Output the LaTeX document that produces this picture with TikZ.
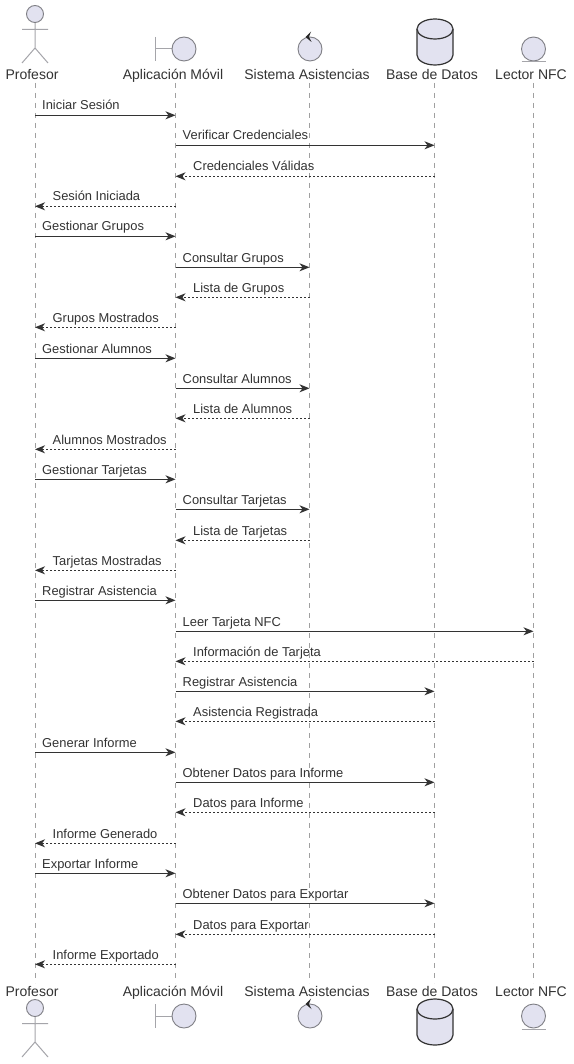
\documentclass[tikz,border=0pt]{standalone}
\usepackage{fontspec}
\setmainfont{Liberation Sans}
\usetikzlibrary{arrows.meta}
\definecolor{lav}{HTML}{E2E2F0}
\definecolor{ink}{HTML}{333333}
\definecolor{rim}{HTML}{7F7F85}
\definecolor{lifeg}{HTML}{A0A0A0}
\tikzset{
  x=1pt,y=-1pt,
  headlabel/.style={inner sep=0pt,anchor=base,text=ink,font=\fontsize{14}{16}\selectfont},
  msglabel/.style={inner sep=0pt,anchor=base west,text=ink,font=\fontsize{12.9}{14}\selectfont},
  lifeline/.style={draw=lifeg,line width=.8pt,dash pattern=on 5pt off 5pt},
  call/.style={draw=ink,line width=1.1pt,-{Stealth[length=10pt,width=8pt,inset=3pt]}},
  back/.style={draw=ink,line width=1.1pt,dash pattern=on 2pt off 2pt,-{Stealth[length=10pt,width=8pt,inset=3pt]}},
  stick/.style={draw=rim!70,line width=1pt},
  blob/.style={draw=rim,line width=.9pt,fill=lav},
  dbbody/.style={draw=ink,line width=1.2pt,fill=lav},
}
\newcommand{\actoricon}[2]{% x, head y
  \begin{scope}[shift={(#1,#2)}]
    \draw[stick] (0,8.5) -- (0,34) (-13,15.5) -- (13,15.5) (-13,49) -- (0,34) -- (13,49);
    \draw[blob] (0,0) circle[radius=8.5];
  \end{scope}}
\newcommand{\boundaryicon}[2]{%
  \begin{scope}[shift={(#1,#2)}]
    \draw[stick] (-28.5,-12) -- (-28.5,12) (-28.5,0) -- (-12,0);
    \draw[blob] (0,0) circle[radius=12];
  \end{scope}}
\newcommand{\controlicon}[2]{%
  \begin{scope}[shift={(#1,#2)}]
    \draw[blob] (0,0) circle[radius=12];
    \fill[black!85] (-4.5,-12) -- (1,-17.5) -- (-1,-12) -- (1.5,-7) -- cycle;
  \end{scope}}
\newcommand{\dbicon}[2]{% center x, top y
  \begin{scope}[shift={(#1,#2)}]
    \draw[dbbody] (-18,10) -- (-18,36)
      .. controls (-18,41.5) and (-10,46) .. (0,46)
      .. controls (10,46) and (18,41.5) .. (18,36)
      -- (18,10)
      .. controls (18,4.5) and (10,0) .. (0,0)
      .. controls (-10,0) and (-18,4.5) .. (-18,10) -- cycle;
    \draw[dbbody] (-18,10)
      .. controls (-18,15.5) and (-10,20) .. (0,20)
      .. controls (10,20) and (18,15.5) .. (18,10);
  \end{scope}}
\newcommand{\entityicon}[2]{%
  \begin{scope}[shift={(#1,#2)}]
    \draw[blob] (0,0) circle[radius=12];
    \draw[stick] (-12,13) -- (12,13);
  \end{scope}}
\begin{document}
\begin{tikzpicture}
\useasboundingbox[fill=white] (0,0) rectangle (573,1064);
% head and foot labels
\node[headlabel] (pT) at (32,80) {Profesor};
\node[headlabel] (aT) at (173,80) {Aplicación Móvil};
\node[headlabel] (sT) at (307,80) {Sistema Asistencias};
\node[headlabel] (dT) at (432,80) {Base de Datos};
\node[headlabel] (lT) at (531,80) {Lector NFC};
\node[headlabel] (pB) at (32,996) {Profesor};
\node[headlabel] (aB) at (173,996) {Aplicación Móvil};
\node[headlabel] (sB) at (307,996) {Sistema Asistencias};
\node[headlabel] (dB) at (432,996) {Base de Datos};
\node[headlabel] (lB) at (531,996) {Lector NFC};
% lifeline anchors
\coordinate (P1) at (35,83);   \coordinate (P2) at (35,983);
\coordinate (A1) at (175.5,83);\coordinate (A2) at (175.5,983);
\coordinate (S1) at (309.5,83);\coordinate (S2) at (309.5,983);
\coordinate (D1) at (434.5,83);\coordinate (D2) at (434.5,983);
\coordinate (L1) at (533.5,83);\coordinate (L2) at (533.5,983);
\draw[lifeline] (P1) -- (P2);
\draw[lifeline] (A1) -- (A2);
\draw[lifeline] (S1) -- (S2);
\draw[lifeline] (D1) -- (D2);
\draw[lifeline] (L1) -- (L2);
% icons
\actoricon{35}{14}\actoricon{35}{1008}
\boundaryicon{184}{49}\boundaryicon{184}{1016}
\controlicon{310}{49}\controlicon{310}{1016}
\dbicon{435}{19}\dbicon{435}{999}
\entityicon{533.5}{49}\entityicon{533.5}{1016}
% messages
\newcommand{\pf}{35}\newcommand{\ap}{175.5}\newcommand{\si}{309.5}\newcommand{\db}{434.5}\newcommand{\nf}{533.5}
\newcommand{\mx}[6]{%
  \coordinate (s#1) at (#3,{round(#2)+0.3});
  \coordinate (e#1) at (#4,{round(#2)+0.3});
  \draw[#5] (s#1) -- (e#1);
  \node[msglabel] (t#1) at ({min(#3,#4)+(#3>#4?17.5:7)},{round(#2)-5}) {#6};
}
\mx{1}{115}{\pf}{\ap}{call}{Iniciar Sesión}
\mx{2}{145.3}{\ap}{\db}{call}{Verificar Credenciales}
\mx{3}{175.6}{\db}{\ap}{back}{Credenciales Válidas}
\mx{4}{206}{\ap}{\pf}{back}{Sesión Iniciada}
\mx{5}{236.3}{\pf}{\ap}{call}{Gestionar Grupos}
\mx{6}{266.6}{\ap}{\si}{call}{Consultar Grupos}
\mx{7}{297}{\si}{\ap}{back}{Lista de Grupos}
\mx{8}{327.2}{\ap}{\pf}{back}{Grupos Mostrados}
\mx{9}{357.5}{\pf}{\ap}{call}{Gestionar Alumnos}
\mx{10}{387.9}{\ap}{\si}{call}{Consultar Alumnos}
\mx{11}{418.2}{\si}{\ap}{back}{Lista de Alumnos}
\mx{12}{448.5}{\ap}{\pf}{back}{Alumnos Mostrados}
\mx{13}{478.8}{\pf}{\ap}{call}{Gestionar Tarjetas}
\mx{14}{509.2}{\ap}{\si}{call}{Consultar Tarjetas}
\mx{15}{539.5}{\si}{\ap}{back}{Lista de Tarjetas}
\mx{16}{569.8}{\ap}{\pf}{back}{Tarjetas Mostradas}
\mx{17}{600.1}{\pf}{\ap}{call}{Registrar Asistencia}
\mx{18}{630.5}{\ap}{\nf}{call}{Leer Tarjeta NFC}
\mx{19}{660.8}{\nf}{\ap}{back}{Información de Tarjeta}
\mx{20}{691.1}{\ap}{\db}{call}{Registrar Asistencia}
\mx{21}{721.4}{\db}{\ap}{back}{Asistencia Registrada}
\mx{22}{751.8}{\pf}{\ap}{call}{Generar Informe}
\mx{23}{782.1}{\ap}{\db}{call}{Obtener Datos para Informe}
\mx{24}{812.4}{\db}{\ap}{back}{Datos para Informe}
\mx{25}{842.7}{\ap}{\pf}{back}{Informe Generado}
\mx{26}{873.1}{\pf}{\ap}{call}{Exportar Informe}
\mx{27}{903.4}{\ap}{\db}{call}{Obtener Datos para Exportar}
\mx{28}{933.7}{\db}{\ap}{back}{Datos para Exportar}
\mx{29}{964}{\ap}{\pf}{back}{Informe Exportado}
\end{tikzpicture}
\end{document}
